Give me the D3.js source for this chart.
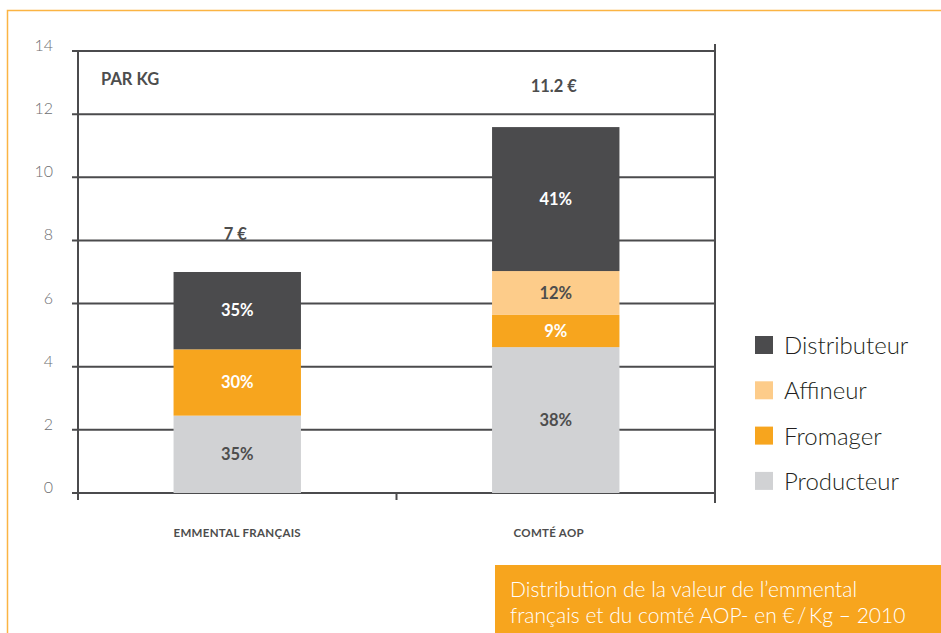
<!DOCTYPE html>
<html>
<head>
<meta charset="utf-8">
<script src="https://cdn.jsdelivr.net/npm/d3@7"></script>
<style>
    body { margin: 0; background: #fff; }
    svg { display: block; }
</style>
</head>
<body>
<div id="chart"></div>
<script>
// Data (EUR per kg)
const products = ['EMMENTAL FRANÇAIS', 'COMTÉ AOP'];
const totals = ['7 €', '11.2 €'];
const series = ['Producteur', 'Fromager', 'Affineur', 'Distributeur'];
const producteur = [2.45, 4.62];
const fromager = [2.1, 1.02];
const affineur = [0, 1.39];
const distributeur = [2.45, 4.56];
const shareLabels = [
    ['35%', '30%', '', '35%'],
    ['38%', '9%', '12%', '41%']
];
const yTicks = [0, 2, 4, 6, 8, 10, 12, 14];
const colors = ['#d1d2d4', '#f7a51e', '#fdcc8a', '#4b4b4d'];
const labelColors = ['#4d4d4d', '#fff', '#4d4d4d', '#fff'];

const W = 941, H = 633;
const svg = d3.select('#chart').append('svg')
    .attr('width', W)
    .attr('height', H);

// orange frame
svg.append('path')
    .attr('d', `M7.5,${H} L7.5,10.5 L${W},10.5`)
    .attr('fill', 'none')
    .attr('stroke', '#fbb443')
    .attr('stroke-width', 1.5);

const x = d3.scaleBand()
    .domain(products)
    .range([78, 715]);
const y = d3.scaleLinear()
    .domain([0, 14])
    .range([493, 51]);

const axisColor = '#4b4b4d';

// gridlines
svg.append('g')
    .selectAll('line')
    .data(yTicks)
    .enter().append('line')
    .attr('x1', 72)
    .attr('x2', 715)
    .attr('y1', d => y(d))
    .attr('y2', d => y(d))
    .attr('stroke', axisColor)
    .attr('stroke-width', 2);

// y tick labels
svg.append('g')
    .selectAll('text')
    .data(yTicks)
    .enter().append('text')
    .attr('x', 53)
    .attr('y', d => y(d))
    .attr('text-anchor', 'end')
    .attr('font-family', 'Lato, sans-serif')
    .attr('font-weight', 300)
    .attr('font-size', 16)
    .attr('fill', '#6d6e71')
    .text(d => d);

// vertical axis lines
svg.append('line')
    .attr('x1', 78).attr('x2', 78)
    .attr('y1', 51).attr('y2', 500)
    .attr('stroke', axisColor).attr('stroke-width', 2);
svg.append('line')
    .attr('x1', 715).attr('x2', 715)
    .attr('y1', 44).attr('y2', 503)
    .attr('stroke', axisColor).attr('stroke-width', 2);
// middle x tick
svg.append('line')
    .attr('x1', x(products[1])).attr('x2', x(products[1]))
    .attr('y1', 493).attr('y2', 500)
    .attr('stroke', axisColor).attr('stroke-width', 2);

// stacked bars
const table = products.map((p, i) => ({
    product: p,
    Producteur: producteur[i],
    Fromager: fromager[i],
    Affineur: affineur[i],
    Distributeur: distributeur[i]
}));
const stacked = d3.stack().keys(series)(table);
const barW = x.bandwidth() * 0.4;
const barX = d => x(d.data.product) + (x.bandwidth() - barW) / 2;

stacked.forEach((layer, si) => {
    const g = svg.append('g');
    g.selectAll('rect')
        .data(layer.filter(d => d[1] > d[0]))
        .enter().append('rect')
        .attr('x', barX)
        .attr('y', d => y(d[1]))
        .attr('width', barW)
        .attr('height', d => y(d[0]) - y(d[1]))
        .attr('fill', colors[si]);
    g.selectAll('text')
        .data(layer.map((d, i) => ({ d, i })).filter(o => o.d[1] > o.d[0]))
        .enter().append('text')
        .attr('x', o => x(o.d.data.product) + x.bandwidth() / 2)
        .attr('y', o => (y(o.d[0]) + y(o.d[1])) / 2)
        .attr('dy', '0.35em')
        .attr('text-anchor', 'middle')
        .attr('font-family', 'Lato, sans-serif')
        .attr('font-weight', 700)
        .attr('font-size', 16.5)
        .attr('fill', labelColors[si])
        .text(o => shareLabels[o.i][si]);
});

// totals above bars
const topLayer = stacked[stacked.length - 1];
svg.append('g')
    .selectAll('text')
    .data(topLayer)
    .enter().append('text')
    .attr('x', d => x(d.data.product) + x.bandwidth() / 2 - 2)
    .attr('y', (d, i) => i === 0 ? 240 : 92)
    .attr('text-anchor', 'middle')
    .attr('font-family', 'Lato, sans-serif')
    .attr('font-weight', 700)
    .attr('font-size', 16.5)
    .attr('fill', '#4d4d4d')
    .text((d, i) => totals[i]);

svg.append('text')
    .attr('x', 101)
    .attr('y', 85)
    .attr('font-family', 'Lato, sans-serif')
    .attr('font-weight', 700)
    .attr('font-size', 16.5)
    .attr('fill', '#4d4d4d')
    .text('PAR KG');

// x labels
svg.append('g')
    .selectAll('text')
    .data(products)
    .enter().append('text')
    .attr('x', (d, i) => x(d) + x.bandwidth() / 2 - i * 7)
    .attr('y', 537)
    .attr('text-anchor', 'middle')
    .attr('font-family', 'Lato, sans-serif')
    .attr('font-weight', 700)
    .attr('font-size', 11.5)
    .attr('letter-spacing', 0.3)
    .attr('fill', '#4d4d4d')
    .text(d => d);

// legend (top item = last series)
const legendItems = series.slice().reverse();
const legend = svg.append('g')
    .selectAll('g')
    .data(legendItems)
    .enter().append('g')
    .attr('transform', (d, i) => `translate(755,${336 + i * 45.3})`);
legend.append('rect')
    .attr('width', 18)
    .attr('height', 18)
    .attr('fill', d => colors[series.indexOf(d)]);
legend.append('text')
    .attr('x', 29)
    .attr('y', 18)
    .attr('font-family', 'Lato, sans-serif')
    .attr('font-weight', 300)
    .attr('font-size', 24)
    .attr('fill', '#231f20')
    .text(d => d);

// caption box
svg.append('rect')
    .attr('x', 495)
    .attr('y', 565)
    .attr('width', W - 495)
    .attr('height', H - 565)
    .attr('fill', '#f7a51e');
svg.append('text')
    .attr('font-family', 'Lato, sans-serif')
    .attr('font-weight', 300)
    .attr('font-size', 21)
    .attr('fill', '#fff')
    .selectAll('tspan')
    .data(['Distribution de la valeur de l’emmental', 'français et du comté AOP- en €\u2009/\u2009Kg – 2010'])
    .enter().append('tspan')
    .attr('x', 510)
    .attr('y', (d, i) => 597 + i * 25.5)
    .text(d => d);
</script>
</body>
</html>
